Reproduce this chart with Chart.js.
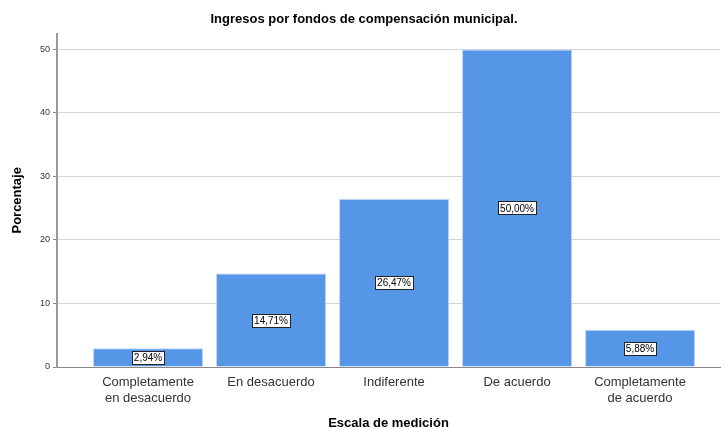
<!DOCTYPE html>
<html>
<head>
<meta charset="utf-8">
<script src="https://cdn.jsdelivr.net/npm/chart.js@4/dist/chart.umd.min.js"></script>
<style>
  html, body { margin: 0; padding: 0; background: #fff; }
  #wrap { width: 725px; height: 428px; }
</style>
</head>
<body>
<div id="wrap"><canvas id="chart"></canvas></div>
<script>
const categories = [
  ["Completamente", "en desacuerdo"],
  "En desacuerdo",
  "Indiferente",
  "De acuerdo",
  ["Completamente", "de acuerdo"]
];
const percentages = [2.94, 14.71, 26.47, 50.00, 5.88];
const yTicks = [0, 10, 20, 30, 40, 50];

const barPoints = percentages.map((v, i) => ({ x: i, y: v }));

// white boxed labels in the middle of each bar
const boxLabels = {
  id: 'boxLabels',
  afterDatasetsDraw(chart) {
    const ctx = chart.ctx;
    const meta = chart.getDatasetMeta(0);
    ctx.save();
    ctx.font = '10px Arial, "Liberation Sans", sans-serif';
    ctx.textAlign = 'center';
    ctx.textBaseline = 'middle';
    meta.data.forEach((bar, i) => {
      const txt = percentages[i].toFixed(2).replace('.', ',') + '%';
      const w = ctx.measureText(txt).width + 4;
      const h = 13;
      const cx = bar.x;
      const cy = (bar.y + bar.base) / 2;
      ctx.fillStyle = '#fff';
      ctx.fillRect(Math.round(cx - w / 2) + 0.5, Math.round(cy - h / 2) + 0.5, Math.round(w), h);
      ctx.strokeStyle = '#222';
      ctx.lineWidth = 1;
      ctx.strokeRect(Math.round(cx - w / 2) + 0.5, Math.round(cy - h / 2) + 0.5, Math.round(w), h);
      ctx.fillStyle = '#000';
      ctx.fillText(txt, cx, cy + 1);
    });
    ctx.restore();
  }
};

new Chart(document.getElementById('chart'), {
  type: 'bar',
  data: {
    datasets: [{
      data: barPoints,
      backgroundColor: '#5596e6',
      borderColor: '#b9d3f5',
      borderWidth: 1,
      barPercentage: 0.894,
      categoryPercentage: 1
    }]
  },
  plugins: [boxLabels],
  options: {
    responsive: true,
    maintainAspectRatio: false,
    animation: false,
    layout: { padding: { left: 8, right: 5, top: 0, bottom: 0 } },
    plugins: {
      legend: { display: false },
      tooltip: { enabled: false },
      title: {
        display: true,
        text: 'Ingresos por fondos de compensación municipal.',
        color: '#000',
        font: { family: 'Arial, "Liberation Sans", sans-serif', size: 13, weight: 'bold' },
        padding: { top: 12, bottom: 6 }
      }
    },
    scales: {
      x: {
        type: 'linear',
        offset: false,
        min: -0.74,
        max: 4.65,
        afterBuildTicks(scale) {
          scale.ticks = categories.map((c, i) => ({ value: i }));
        },
        afterFit(scale) { scale.height = 61; },
        grid: { display: false, drawTicks: false, offset: false },
        border: { display: true, color: '#888', width: 1 },
        ticks: {
          autoSkip: false,
          maxRotation: 0,
          padding: 8,
          color: '#333',
          font: { family: 'Arial, "Liberation Sans", sans-serif', size: 13 },
          callback: (v) => categories[v]
        },
        title: {
          display: true,
          text: 'Escala de medición',
          color: '#000',
          font: { family: 'Arial, "Liberation Sans", sans-serif', size: 13, weight: 'bold' },
          padding: { top: 10, bottom: -3 }
        }
      },
      y: {
        min: 0,
        max: 52.5,
        afterBuildTicks(scale) {
          scale.ticks = yTicks.map(v => ({ value: v }));
        },
        afterFit(scale) { scale.width = 49; },
        grid: { color: '#d4d4d4', lineWidth: 1, drawTicks: true, tickLength: 4, tickColor: '#888' },
        border: { display: true, color: '#999', width: 2 },
        ticks: {
          padding: 3,
          color: '#333',
          font: { family: 'Arial, "Liberation Sans", sans-serif', size: 9 }
        },
        title: {
          display: true,
          text: 'Porcentaje',
          color: '#000',
          font: { family: 'Arial, "Liberation Sans", sans-serif', size: 13, weight: 'bold' },
          padding: { top: 2, bottom: 8 }
        }
      }
    }
  }
});
</script>
</body>
</html>
